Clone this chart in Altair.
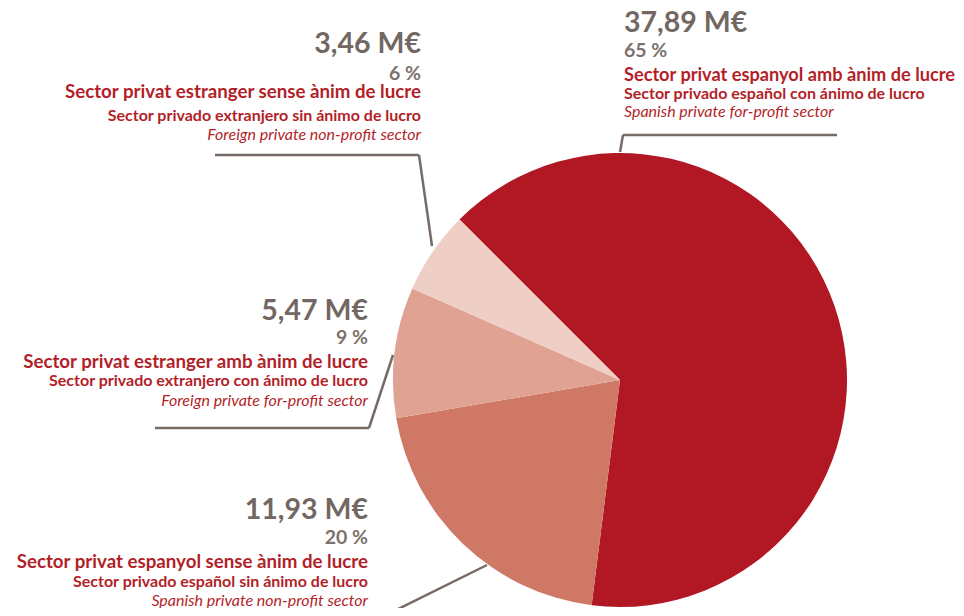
import math
import altair as alt
import pandas as pd

# ---- data ----
sectors_ca = ["Sector privat espanyol amb ànim de lucre",
              "Sector privat  espanyol sense  ànim de lucre",
              "Sector privat estranger amb ànim de lucre",
              "Sector privat estranger sense ànim de lucre"]
sectors_es = ["Sector privado español con ánimo de lucro",
              "Sector privado español sin ánimo de lucro",
              "Sector privado extranjero con ánimo de lucro",
              "Sector privado extranjero sin ánimo de lucro"]
sectors_en = ["Spanish private for-profit sector",
              "Spanish private non-profit sector",
              "Foreign private for-profit sector",
              "Foreign private non-profit sector"]
amounts = [37.89, 11.93, 5.47, 3.46]
amount_labels = ["37,89 M€", "11,93 M€", "5,47 M€", "3,46 M€"]
pct_labels = ["65 %", "20 %", "9 %", "6 %"]
colors = ["#B11823", "#CF7866", "#E0A393", "#EFCFC5"]

df = pd.DataFrame({"sector": sectors_ca, "amount": amounts, "order": [0, 1, 2, 3]})

# ---- layout (pixels in plot area) ----
W, H = 948, 600
CX, CY, R = 612, 372, 227
start = 7 * math.pi / 4
OFF = 8  # page margin offset

RED = "#B21F29"
GRAY = "#726762"
GRAY2 = "#7C726D"
LINE = "#766B66"

one = pd.DataFrame({"a": [0]})

pie = alt.Chart(df).mark_arc(radius=R, stroke=None).encode(
    x=alt.value(CX), y=alt.value(CY),
    theta=alt.Theta("amount:Q", stack=True,
                    scale=alt.Scale(range=[start, start + 2 * math.pi])),
    order=alt.Order("order:Q"),
    color=alt.Color("sector:N", scale=alt.Scale(domain=sectors_ca, range=colors), legend=None),
)

# leader line segments (image coords)
segments = [
    (620, 152, 623, 135), (623, 135, 837, 135),
    (432, 246, 419, 155), (419, 155, 215, 155),
    (393, 355, 369, 428), (369, 428, 155, 428),
    (487, 565, 376, 620),
]
layers = [pie]
for x1, y1, x2, y2 in segments:
    layers.append(alt.Chart(one).mark_rule(color=LINE, strokeWidth=2.5).encode(
        x=alt.value(x1 - OFF), y=alt.value(y1 - OFF),
        x2=alt.value(x2 - OFF), y2=alt.value(y2 - OFF)))

# label groups: (index, x, align, baselines for 5 lines, catalan size)
groups = [
    (0, 624, "left", [32, 57, 81, 99, 117], 18.2),
    (3, 421, "right", [53, 80, 98, 121, 140], 18.7),
    (2, 368, "right", [320, 344, 368, 386, 406], 18.7),
    (1, 368, "right", [519, 544, 568, 587, 606], 18.7),
]
for i, gx, al, ys, cas in groups:
    lines = [
        (amount_labels[i], 28.5, "bold", "normal", GRAY),
        (pct_labels[i], 19.5, "bold", "normal", GRAY2),
        (sectors_ca[i], cas, "bold", "normal", RED),
        (sectors_es[i], 16, "bold", "normal", RED),
        (sectors_en[i], 16, "normal", "italic", RED),
    ]
    for (txt, fs, fw, fst, col), yy in zip(lines, ys):
        layers.append(alt.Chart(one).mark_text(
            text=txt, align=al, baseline="alphabetic", font="Lato",
            fontSize=fs, fontWeight=fw, fontStyle=fst, color=col,
        ).encode(x=alt.value(gx - OFF), y=alt.value(yy - OFF)))

chart = alt.layer(*layers).properties(
    width=W, height=H, padding=0, autosize=alt.AutoSizeParams(type="none")
).configure_view(stroke=None)

chart.save("out.html", embed_options={"renderer": "svg", "actions": False})
